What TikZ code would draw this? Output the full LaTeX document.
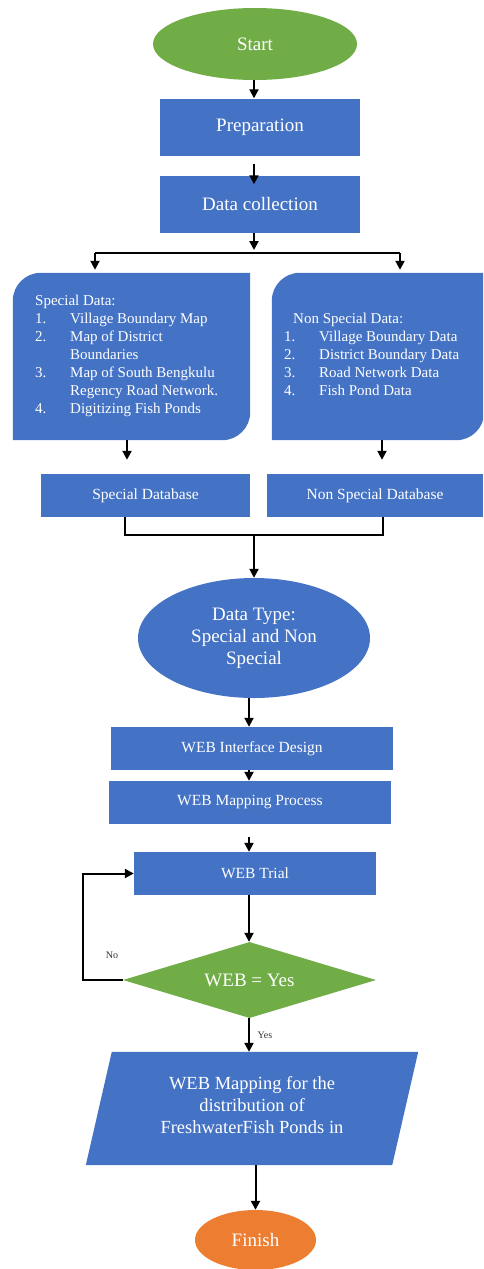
\documentclass[tikz,border=0pt]{standalone}
\usepackage{fontspec}
\setmainfont{Liberation Serif}
\usetikzlibrary{shapes.geometric,arrows.meta,calc}
\definecolor{boxblue}{HTML}{4472C4}
\definecolor{boxgreen}{HTML}{70AD47}
\definecolor{boxorange}{HTML}{ED7D31}
\begin{document}
\begin{tikzpicture}[x=1pt,y=-1pt,
  arr/.style={line width=2pt,-{Triangle[length=9pt,width=9pt]}},
  ln/.style={line width=2pt},
  blbox/.style={rectangle,fill=boxblue,text=white,inner sep=0pt,align=center},
  bigtxt/.style={font=\fontsize{19}{22}\selectfont},
  midtxt/.style={font=\fontsize{15.5}{18}\selectfont},
  lbl/.style={font=\fontsize{10}{12}\selectfont,text=black!80,inner sep=1pt},
]
\clip (0,0) rectangle (483,1269);
\fill[white] (0,0) rectangle (483,1269);

% Start
\node[ellipse,fill=boxgreen,text=white,bigtxt,minimum width=204pt,minimum height=72pt,inner sep=0pt] (start) at (255,44) {Start};
\node[blbox,bigtxt,minimum width=200pt,minimum height=57pt] (prep) at (260,127) {Preparation};
\node[blbox,bigtxt,minimum width=200pt,minimum height=57pt] (dcol) at (260,204) {Data collection};

% branch
\coordinate (bc) at (254,253);
\coordinate (brL) at (95,253);
\coordinate (brR) at (400,253);

% Special data box
\node[inner sep=0pt,minimum width=237pt,minimum height=167pt] (sdata) at (131.5,356.5) {};
\fill[boxblue] (sdata.south west) -- ([yshift=-28pt]sdata.north west) arc[start angle=180,end angle=90,radius=28pt] -- (sdata.north east) -- ([yshift=28pt]sdata.south east) arc[start angle=0,end angle=-90,radius=28pt] -- cycle;
\node[anchor=north west,inner sep=0pt,text=white,font=\fontsize{15}{18}\selectfont] (stext) at (35,293) {%
\begin{tabular}{@{}p{35pt}@{}l@{}}
\multicolumn{2}{@{}l@{}}{Special Data:}\\
1. & Village Boundary Map\\
2. & Map of District\\
   & Boundaries\\
3. & Map of South Bengkulu\\
   & Regency Road Network.\\
4. & Digitizing Fish Ponds
\end{tabular}};

% Non special data box
\node[inner sep=0pt,minimum width=212pt,minimum height=167pt] (nsdata) at (378,356.5) {};
\fill[boxblue] (nsdata.south west) -- ([yshift=-28pt]nsdata.north west) arc[start angle=180,end angle=90,radius=28pt] -- (nsdata.north east) -- ([yshift=28pt]nsdata.south east) arc[start angle=0,end angle=-90,radius=28pt] -- cycle;
\node[anchor=north west,inner sep=0pt,text=white,font=\fontsize{15}{18}\selectfont] (ntext) at (284,311) {%
\begin{tabular}{@{}p{35pt}@{}l@{}}
\multicolumn{2}{@{}l@{}}{\hspace{9pt}Non Special Data:}\\
1. & Village Boundary Data\\
2. & District Boundary Data\\
3. & Road Network Data\\
4. & Fish Pond Data
\end{tabular}};

% databases
\node[blbox,midtxt,minimum width=209pt,minimum height=43pt] (sdb) at (145.5,495.5) {Special Database};
\node[blbox,midtxt,minimum width=216pt,minimum height=43pt] (nsdb) at (375,495.5) {Non Special Database};

% data type
\node[ellipse,fill=boxblue,text=white,bigtxt,align=center,minimum width=232pt,minimum height=120pt,inner sep=0pt] (dtype) at (254,638) {Data Type:\\Special and Non\\Special};

\node[blbox,midtxt,minimum width=282pt,minimum height=43pt] (wid) at (252,748.5) {WEB Interface Design};
\node[blbox,midtxt,minimum width=282pt,minimum height=43pt] (wmp) at (250,802.5) {WEB Mapping Process};
\node[blbox,midtxt,minimum width=242pt,minimum height=43pt] (wtr) at (255,873.5) {WEB Trial};

\node[diamond,aspect=3.3,fill=boxgreen,text=white,bigtxt,minimum width=253pt,minimum height=76pt,inner sep=0pt] (dia) at (249.5,980) {WEB = Yes};

% parallelogram
\node[inner sep=0pt,minimum width=332pt,minimum height=113pt] (para) at (252,1108.5) {};
\fill[boxblue] ([xshift=26pt]para.north west) -- (para.north east) -- ([xshift=-26pt]para.south east) -- (para.south west) -- cycle;
\node[text=white,font=\fontsize{18.5}{22}\selectfont,align=center,inner sep=0pt] (ptext) at (252,1105.5) {WEB Mapping for the\\distribution of\\FreshwaterFish Ponds in};

\node[ellipse,fill=boxorange,text=white,bigtxt,minimum width=121pt,minimum height=60pt,inner sep=0pt] (fin) at (255.5,1240) {Finish};

% connectors
\coordinate (cl) at (127,450);
\coordinate (cr) at (382,450);
\coordinate (mL) at (125,535);
\coordinate (mR) at (383,535);
\coordinate (mC) at (254,535);
\coordinate (tk) at (249,700);
\coordinate (lp) at (83,980);

\draw[arr] (start.south -| bc) -- (prep.north -| bc);
\draw[arr,shorten <=8pt,shorten >=-9pt] (prep.south -| bc) -- (dcol.north -| bc);
\draw[arr,shorten >=3pt] (dcol.south -| bc) -- (bc);
\draw[ln] (brL) -- (brR);
\draw[arr,shorten >=3pt] (brL) -- (brL |- sdata.north);
\draw[arr,shorten >=3pt] (brR) -- (brR |- nsdata.north);
\draw[arr,shorten >=14pt] (sdata.south -| cl) -- (sdb.north -| cl);
\draw[arr,shorten >=14pt] (nsdata.south -| cr) -- (nsdb.north -| cr);
\draw[ln] (sdb.south -| mL) -- (mL) -- (mR) -- (nsdb.south -| mR);
\draw[arr] (mC) -- (dtype.north);
\draw[arr] (dtype.south -| tk) -- (wid.north -| tk);
\draw[arr] (wid.south -| tk) -- (wmp.north -| tk);
\draw[arr,shorten <=13pt] (wmp.south -| tk) -- (wtr.north -| tk);
\draw[arr] (wtr.south -| tk) -- (dia.north -| tk);
\draw[arr] (dia.west) -- (lp) |- (wtr.west);
\draw[arr] (dia.south -| tk) -- (para.north -| tk);
\draw[arr] (para.south -| fin) -- (fin.north);

\node[lbl] (no) at (112,955) {No};
\node[lbl] (yes) at (265,1035) {Yes};
\end{tikzpicture}
\end{document}
